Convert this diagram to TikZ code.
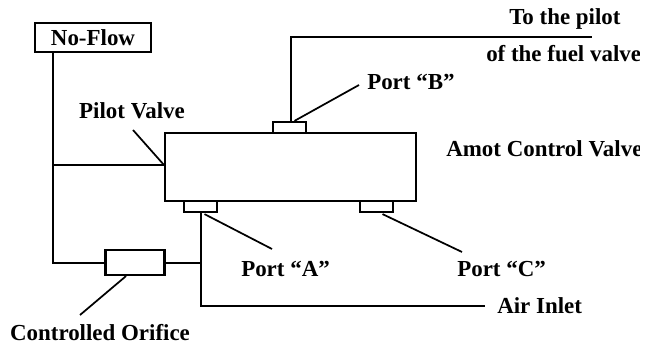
\documentclass[tikz,border=0pt]{standalone}
\usepackage{fontspec}
\setmainfont{Liberation Serif}
\usetikzlibrary{positioning,calc}
\tikzset{valvebox/.style={draw=black,line width=1.9pt,inner sep=0pt,fill=white},portbox/.style={valvebox,minimum width=24.5pt,minimum height=8pt},pipe/.style={draw=black,line width=1.9pt},leader/.style={draw=black,line width=1.3pt},lab/.style={font=\fontsize{17.2}{20}\selectfont\bfseries,inner sep=0pt}}
\begin{document}
\begin{tikzpicture}[x=0.75pt,y=-0.75pt]
\useasboundingbox (0,0) rectangle (657,345);
\node[valvebox,minimum width=188pt,minimum height=51pt] (amot) at (290.5,167) {};
\node[portbox] (portb) at (289.5,127.5) {};
\node[portbox] (porta) at (200.5,206.5) {};
\node[portbox] (portc) at (376.5,206.5) {};
\node[valvebox,minimum width=87pt,minimum height=22pt,lab] (noflow) at (93,37.5) {No-Flow};
\node[valvebox,minimum width=44pt,minimum height=18.5pt] (orifice) at (135,262.5) {};
\node[lab] (pilotlab) at (132,111) {Pilot Valve};
\node[lab] (orificelab) at (100,332.5) {Controlled Orifice};
\node[lab,anchor=west] (portblab) at (367,82) {Port ``B''};
\node[lab,anchor=west] (portalab) at (241,269) {Port ``A''};
\node[lab,anchor=west] (portclab) at (457,269) {Port ``C''};
\node[lab,anchor=west] (airlab) at (497,306) {Air Inlet};
\node[lab,anchor=west] (topilot) at (509,19) {To the pilot};
\begin{scope}
\clip (440,40) rectangle (639,170);
\node[lab,anchor=west] (fuellab) at (486,54) {of the fuel valve};
\node[lab,anchor=west] (amotlab) at (446,149) {Amot Control Valve};
\end{scope}
\coordinate (pilotend) at (592,37);
\coordinate (airend) at (485,306);
\coordinate (tee) at (53,165);
\coordinate (corner) at (53,263);
\coordinate (inlet) at (201,263);
\coordinate (pilotjoin) at (164,165);
% pipes
\draw[pipe] (53,53)--(tee)--(corner)--(orifice.west |- corner);
\draw[pipe] (tee)--(pilotjoin);
\draw[pipe] (orifice.east |- inlet)--(inlet);
\draw[pipe] (201,212)--(inlet)--(201,306)--(airend);
\draw[pipe] (291,122)--(291,37)--(pilotend);
% leaders
\draw[leader] (portb.north)++(5,0)--(359,85);
\draw[leader] (pilotjoin)--(133,130);
\draw[leader] (porta.south)++(4,1)--(272,249);
\draw[leader] (portc.south)++(6,1)--(462,252);
\draw[leader] (orifice.south)++(-9,0)--(80,315);
\end{tikzpicture}
\end{document}
